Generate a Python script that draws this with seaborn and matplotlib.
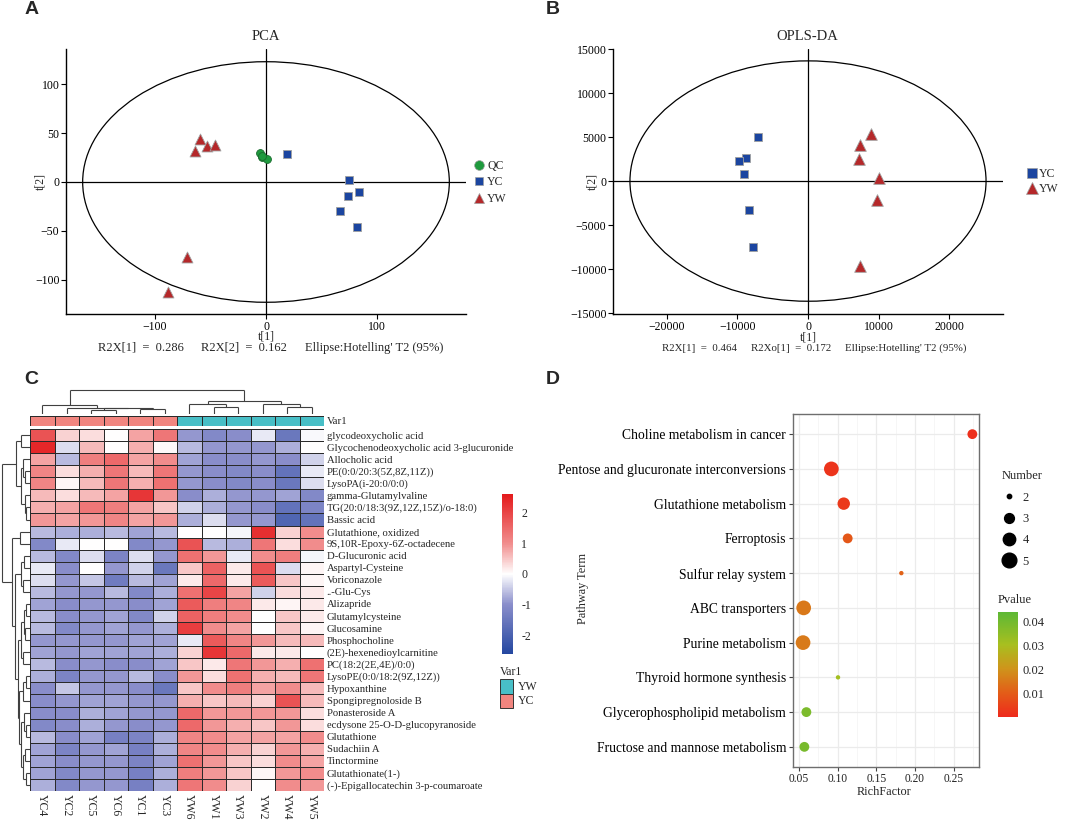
import numpy as np
import pandas as pd
import matplotlib
matplotlib.use("Agg")
import matplotlib.pyplot as plt
import seaborn as sns
from matplotlib.patches import Ellipse, Rectangle
from matplotlib.colors import LinearSegmentedColormap, ListedColormap, Normalize
from matplotlib.lines import Line2D
from matplotlib.cm import ScalarMappable

# ---------------- data ----------------
# A: PCA scores
pca_group = ["QC"] * 4 + ["YC"] * 6 + ["YW"] * 6
pca_t1 = [-5.4, -4.0, 1.0, -3.3, 19, 74.5, 74, 84, 67, 82, -59, -64, -53, -46, -71, -88]
pca_t2 = [30, 26, 23.5, 27, 29, 2, -14, -10, -30, -46, 44, 32, 37, 38, -77, -112]

# B: OPLS-DA scores
opls_group = ["YC"] * 6 + ["YW"] * 6
opls_t1 = [-7080, -8820, -9760, -9060, -8350, -7830, 8960, 7360, 7260, 10000, 9810, 7400]
opls_t2 = [5000, 2670, 2330, 830, -3270, -7480, 5380, 4140, 2560, 380, -2180, -9660]

# C: heatmap (z-scores)
heat_cols = ["YC4", "YC2", "YC5", "YC6", "YC1", "YC3", "YW6", "YW1", "YW3", "YW2", "YW4", "YW5"]
heat_rows = [
    "glycodeoxycholic acid", "Glycochenodeoxycholic acid 3-glucuronide", "Allocholic acid",
    "PE(0:0/20:3(5Z,8Z,11Z))", "LysoPA(i-20:0/0:0)", "gamma-Glutamylvaline",
    "TG(20:0/18:3(9Z,12Z,15Z)/o-18:0)", "Bassic acid", "Glutathione, oxidized",
    "9S,10R-Epoxy-6Z-octadecene", "D-Glucuronic acid", "Aspartyl-Cysteine", "Voriconazole",
    "..-Glu-Cys", "Alizapride", "Glutamylcysteine", "Glucosamine", "Phosphocholine",
    "(2E)-hexenedioylcarnitine", "PC(18:2(2E,4E)/0:0)", "LysoPE(0:0/18:2(9Z,12Z))",
    "Hypoxanthine", "Spongipregnoloside B", "Ponasteroside A",
    "ecdysone 25-O-D-glucopyranoside", "Glutathione", "Sudachiin A", "Tinctormine",
    "Glutathionate(1-)", "(-)-Epigallocatechin 3-p-coumaroate",
]
heat_values = [
    [1.8, 0.4, 0.3, 0.0, 0.8, 1.3, -0.9, -1.1, -1.0, -0.2, -1.5, -0.05],
    [2.4, -0.3, 0.6, 0.0, 0.7, 0.05, -0.6, -0.9, -0.9, -0.9, -0.7, 0.0],
    [0.8, -0.6, 1.2, 1.5, 0.8, 1.0, -0.8, -1.0, -1.0, -0.9, -1.0, -0.4],
    [1.1, 0.3, 0.7, 1.3, 0.6, 1.3, -0.9, -1.0, -1.1, -1.0, -1.6, -0.2],
    [1.1, 0.1, 0.6, 1.3, 0.7, 1.4, -0.9, -1.0, -1.1, -1.0, -1.5, -0.3],
    [0.6, 0.3, 0.6, 0.8, 2.2, 0.9, -1.0, -0.7, -0.9, -0.9, -0.8, -1.1],
    [0.7, 0.8, 1.3, 1.2, 0.8, 0.5, -0.4, -0.7, -0.9, -1.0, -1.6, -1.2],
    [0.9, 0.8, 0.9, 1.1, 0.8, 0.9, -0.7, -0.3, -0.9, -0.9, -1.9, -1.6],
    [-0.6, -0.7, -0.7, -0.6, -0.8, -0.6, 0.0, 0.0, -0.1, 2.3, 0.4, 1.0],
    [-1.1, -0.2, 0.0, 0.0, -1.1, -0.9, 1.8, -0.6, -0.7, 1.3, 0.3, 1.0],
    [-0.6, -1.1, -0.3, -1.2, -0.3, -0.9, 1.4, 0.9, -0.2, 1.0, 1.2, -0.1],
    [-0.2, -1.0, 0.0, -0.9, -0.4, -1.5, 0.5, 1.6, 0.2, 1.8, -0.3, 0.1],
    [-0.3, -0.9, -0.5, -1.4, -0.6, -0.8, 0.2, 1.5, 0.2, 1.7, 0.5, 0.1],
    [-0.6, -0.9, -0.9, -0.6, -1.1, -0.7, 1.4, 2.0, 0.8, -0.4, 0.3, 0.2],
    [-0.8, -1.0, -0.9, -0.9, -1.0, -0.8, 1.7, 1.2, 1.1, 0.2, 0.1, 0.2],
    [-0.6, -1.0, -0.9, -0.8, -1.1, -0.4, 1.6, 1.2, 1.0, 0.0, 0.5, 0.2],
    [-0.6, -1.1, -0.9, -0.8, -0.9, -0.7, 2.1, 1.0, 0.8, 0.0, 0.5, 0.1],
    [-0.9, -0.9, -0.9, -0.9, -0.8, -0.8, -0.2, 1.7, 1.1, 0.9, 0.6, 0.6],
    [-0.8, -0.9, -0.8, -0.8, -0.8, -0.7, 0.4, 2.2, 1.5, 0.2, 0.2, 0.0],
    [-0.6, -1.0, -0.9, -1.0, -1.0, -0.8, 0.5, 0.2, 1.3, 0.9, 0.7, 1.4],
    [-0.7, -1.2, -0.9, -0.9, -0.6, -1.0, 0.9, 0.3, 1.4, 0.7, 0.6, 1.3],
    [-1.0, -0.5, -0.9, -0.9, -1.0, -1.5, 0.5, 1.0, 1.2, 0.8, 1.0, 0.6],
    [-1.0, -0.9, -0.8, -0.8, -0.9, -0.9, 0.7, 0.5, 0.6, 0.4, 1.8, 0.6],
    [-1.0, -1.0, -0.7, -0.8, -0.9, -0.9, 1.5, 0.9, 0.9, 0.9, 0.9, 0.3],
    [-1.1, -1.0, -0.7, -0.9, -1.0, -0.9, 1.5, 0.9, 0.7, 0.5, 0.9, 0.3],
    [-0.6, -1.0, -0.8, -1.3, -1.2, -0.7, 1.1, 1.0, 0.8, 0.8, 0.8, 1.0],
    [-0.8, -1.2, -0.9, -0.8, -1.3, -0.7, 1.1, 1.0, 0.7, 0.4, 0.9, 0.7],
    [-0.8, -1.0, -0.9, -0.9, -1.2, -0.8, 1.4, 0.9, 0.5, 0.3, 1.0, 0.8],
    [-0.8, -1.1, -0.9, -0.9, -1.3, -0.7, 1.2, 0.9, 0.5, 0.1, 0.9, 1.0],
    [-0.7, -1.1, -0.9, -0.9, -1.3, -0.7, 1.3, 1.0, 0.4, 0.0, 1.0, 0.9],
]
# dendrogram topology: (height, left, right), leaves = index in display order
col_tree = (23.8,
            (9.2, 0, (6.8, 1, (6.3, (4.0, 2, 3), (5.8, 4, 5)))),
            (12.8, (10.2, 6, (7.5, 7, 8)), (10.2, 9, (7.5, 10, 11))))
row_tree = (27.0,
            (13.3, (8.7, 0, 1), (8.7, (6.0, 2, (4.3, 3, 4)), (4.0, 5, (3.3, 6, 7)))),
            (17.5, (9.3, 8, 9),
             (14.0, (8.0, (5.0, 10, 11), (6.0, 12, 13)),
              (11.0, (8.5, (5.5, (3.5, 14, 15), (4.0, 16, 17)), (6.0, 18, 19)),
               (10.0, (6.0, (3.0, 20, 21), 22),
                (8.0, (5.0, 23, (3.5, 24, 25)), (6.5, (4.5, 26, 27), (3.0, 28, 29))))))))

# D: KEGG enrichment
pathways = ["Choline metabolism in cancer", "Pentose and glucuronate interconversions",
            "Glutathione metabolism", "Ferroptosis", "Sulfur relay system", "ABC transporters",
            "Purine metabolism", "Thyroid hormone synthesis", "Glycerophospholipid metabolism",
            "Fructose and mannose metabolism"]
rich_factor = [0.2741, 0.0918, 0.1078, 0.1129, 0.1823, 0.0560, 0.0552, 0.1004, 0.0595, 0.0569]
path_number = [3, 5, 4, 3, 2, 5, 5, 2, 3, 3]
pvalue = [0.0012, 0.0020, 0.0030, 0.0090, 0.0110, 0.0150, 0.0155, 0.0310, 0.0380, 0.0390]

# ---------------- style ----------------
sns.set_theme(style="white")
plt.rcParams["font.family"] = ["Liberation Serif", "DejaVu Serif"]
plt.rcParams["axes.unicode_minus"] = True

W, H = 1065, 823
fig = plt.figure(figsize=(W / 100, H / 100), dpi=100)


def px(l, t, r, b):
    return [l / W, 1 - b / H, (r - l) / W, (b - t) / H]


def ftext(x, y, s, **kw):
    kw.setdefault("ha", "center")
    kw.setdefault("va", "center")
    fig.text(x / W, 1 - y / H, s, **kw)


group_colors = {"QC": "#1F9A3E", "YC": "#1B45A0", "YW": "#B5282A"}
group_markers = {"QC": "o", "YC": "s", "YW": "^"}


def score_axes(ax):
    for s in ["top", "right"]:
        ax.spines[s].set_visible(False)
    for s in ["left", "bottom"]:
        ax.spines[s].set_color("black")
        ax.spines[s].set_linewidth(1.0)
    ax.tick_params(bottom=True, left=True, length=3.5, width=0.8, labelsize=8.5,
                   colors="black", pad=1.2)
    ax.axhline(0, color="black", lw=0.9, zorder=1)
    ax.axvline(0, color="black", lw=0.9, zorder=1)
    ax.set_xlabel("")
    ax.set_ylabel("")


# ---------------- A: PCA ----------------
axA = fig.add_axes(px(66, 49, 466, 314))
dfA = pd.DataFrame({"t1": pca_t1, "t2": pca_t2, "group": pca_group})
sizesA = {"QC": 32, "YC": 34, "YW": 62}
edgesA = {"QC": "#1a6b2e", "YC": "#a0a0a0", "YW": "#a0a0a0"}
for g in ["QC", "YC", "YW"]:
    sns.scatterplot(data=dfA[dfA.group == g], x="t1", y="t2", color=group_colors[g],
                    marker=group_markers[g], s=sizesA[g], edgecolor=edgesA[g],
                    linewidth=0.6, ax=axA, zorder=3, legend=False)
axA.add_patch(Ellipse((0, 0), 330, 246, fill=False, lw=0.9, color="black"))
axA.set_xlim(-180, 180)
axA.set_ylim(-135, 136)
axA.set_xticks([-100, 0, 100])
axA.set_yticks([-100, -50, 0, 50, 100])
score_axes(axA)
ftext(266, 37, "PCA", fontsize=10.5)
ftext(266, 337, "t[1]", fontsize=8.5)
ftext(40, 182, "t[2]", fontsize=8.5, rotation=90)
ftext(98, 347.5, "R2X[1]  =  0.286", fontsize=9, ha="left")
ftext(201, 347.5, "R2X[2]  =  0.162", fontsize=9, ha="left")
ftext(305, 347.5, "Ellipse:Hotelling' T2 (95%)", fontsize=9, ha="left")
handlesA = [Line2D([], [], ls="", marker=group_markers[g], color=group_colors[g],
                   markersize=7 if g != "YC" else 6, markeredgecolor="#a0a0a0",
                   markeredgewidth=0.5) for g in ["QC", "YC", "YW"]]
fig.legend(handlesA, ["QC", "YC", "YW"], loc="upper left",
           bbox_to_anchor=(466 / W, 1 - 154 / H), frameon=False, fontsize=8.5,
           handletextpad=0.1, labelspacing=0.38, borderpad=0, handlelength=1.2)

# ---------------- B: OPLS-DA ----------------
axB = fig.add_axes(px(613, 49, 1003, 314))
dfB = pd.DataFrame({"t1": opls_t1, "t2": opls_t2, "group": opls_group})
for g in ["YC", "YW"]:
    sns.scatterplot(data=dfB[dfB.group == g], x="t1", y="t2", color=group_colors[g],
                    marker=group_markers[g], s=sizesA[g] if g == "YC" else 70,
                    edgecolor="#a0a0a0", linewidth=0.6, ax=axB, zorder=3, legend=False)
axB.add_patch(Ellipse((0, 0), 50400, 27300, fill=False, lw=0.9, color="black"))
axB.set_xlim(-27600, 27600)
axB.set_ylim(-15100, 15000)
axB.set_xticks([-20000, -10000, 0, 10000, 20000])
axB.set_yticks([-15000, -10000, -5000, 0, 5000, 10000, 15000])
score_axes(axB)
ftext(807, 36, "OPLS-DA", fontsize=10.5)
ftext(808, 338, "t[1]", fontsize=8.5)
ftext(592, 181, "t[2]", fontsize=8.5, rotation=90)
ftext(662, 348.5, "R2X[1]  =  0.464", fontsize=7.8, ha="left")
ftext(751, 348.5, "R2Xo[1]  =  0.172", fontsize=7.8, ha="left")
ftext(845, 348.5, "Ellipse:Hotelling' T2 (95%)", fontsize=7.8, ha="left")
handlesB = [Line2D([], [], ls="", marker=group_markers[g], color=group_colors[g],
                   markersize=6.5 if g == "YC" else 8, markeredgecolor="#a0a0a0",
                   markeredgewidth=0.5) for g in ["YC", "YW"]]
fig.legend(handlesB, ["YC", "YW"], loc="upper left",
           bbox_to_anchor=(1019 / W, 1 - 162 / H), frameon=False, fontsize=8.5,
           handletextpad=0.0, labelspacing=0.3, borderpad=0, handlelength=1.2)

# ---------------- C: heatmap ----------------
heat_cmap = LinearSegmentedColormap.from_list(
    "bwr_soft", [(0.0, "#2447A0"), (0.31, "#8A8ECB"), (0.5, "#FFFFFF"),
                 (0.69, "#F18E8E"), (1.0, "#E41A1C")])
heat_df = pd.DataFrame(heat_values, index=heat_rows, columns=heat_cols)
axC = fig.add_axes(px(30, 429, 324, 791))
caxC = fig.add_axes(px(502, 494, 513, 654))
sns.heatmap(heat_df, cmap=heat_cmap, vmin=-2.6, vmax=2.6, linewidths=0.7,
            linecolor="#2a2a2a", cbar_ax=caxC, ax=axC,
            cbar_kws={"ticks": [-2, -1, 0, 1, 2]})
axC.yaxis.tick_right()
axC.set_yticks(np.arange(len(heat_rows)) + 0.5)
axC.set_yticklabels(heat_rows, rotation=0, fontsize=7.7, ha="left")
axC.set_xticks(np.arange(len(heat_cols)) + 0.5)
axC.set_xticklabels(heat_cols, rotation=270, fontsize=8.5)
axC.tick_params(length=0, pad=2)
axC.set_xlabel("")
axC.set_ylabel("")
caxC.tick_params(length=0, labelsize=8.5, pad=6)
caxC.set_yticklabels(["-2", "-1", "0", "1", "2"])
for sp in caxC.spines.values():
    sp.set_visible(False)
cbC = axC.collections[0].colorbar
if cbC is not None:
    cbC.outline.set_visible(False)

var_colors = {"YC": "#F1857F", "YW": "#48BFC7"}
col_group = [c[:2] for c in heat_cols]
ann_codes = np.array([[0 if g == "YC" else 1 for g in col_group]])
axAnn = fig.add_axes(px(30, 416, 324, 426.5))
sns.heatmap(ann_codes, cmap=ListedColormap([var_colors["YC"], var_colors["YW"]]),
            vmin=0, vmax=1, cbar=False, linewidths=0.7, linecolor="#2a2a2a",
            xticklabels=False, yticklabels=False, ax=axAnn)
ftext(327, 421, "Var1", fontsize=7.8, ha="left")

ftext(500, 672, "Var1", fontsize=8.5, ha="left")
for i, g in enumerate(["YW", "YC"]):
    top = 679 + i * 14.5
    fig.add_artist(Rectangle((500 / W, 1 - (top + 14.5) / H), 13 / W, 14.5 / H,
                             transform=fig.transFigure, fc=var_colors[g],
                             ec="#333333", lw=0.7))
    ftext(518, top + 7.5, g, fontsize=8.5, ha="left")


def draw_dendro(ax, tree, orient):
    def seg(p0, h0, p1, h1):
        if orient == "top":
            ax.plot([p0, p1], [h0, h1], color="#404040", lw=0.8, solid_capstyle="butt")
        else:
            ax.plot([h0, h1], [p0, p1], color="#404040", lw=0.8, solid_capstyle="butt")

    def walk(node):
        if isinstance(node, int):
            return node + 0.5, 0.0
        h, left, right = node
        lp, lh = walk(left)
        rp, rh = walk(right)
        seg(lp, lh, lp, h)
        seg(rp, rh, rp, h)
        seg(lp, h, rp, h)
        return (lp + rp) / 2, h

    walk(tree)
    ax.axis("off")


axCD = fig.add_axes(px(30, 389, 324, 414.5))
draw_dendro(axCD, col_tree, "top")
axCD.set_xlim(0, len(heat_cols))
axCD.set_ylim(0, 25)

axRD = fig.add_axes(px(1, 429, 29.5, 791))
draw_dendro(axRD, row_tree, "left")
axRD.set_xlim(28, 0)
axRD.set_ylim(len(heat_rows), 0)

# ---------------- D: enrichment bubble ----------------
p_cmap = LinearSegmentedColormap.from_list(
    "pv", [(0.0, "#EE2A1C"), (0.23, "#E35D18"), (0.46, "#CF941B"),
           (0.69, "#A8BF1F"), (1.0, "#5DB835")])
p_norm = Normalize(0.0, 0.0438)
size_map = {2: 10, 3: 50, 4: 80, 5: 112}
dfD = pd.DataFrame({"Pathway": pathways, "RichFactor": rich_factor,
                    "Number": path_number, "Pvalue": pvalue})
axD = fig.add_axes(px(793, 414, 979, 767))
sns.scatterplot(data=dfD, x="RichFactor", y="Pathway", size="Number", sizes=size_map,
                hue="Pvalue", palette=p_cmap, hue_norm=p_norm, linewidth=0,
                legend=False, ax=axD, zorder=3)
axD.set_xlim(0.0422, 0.2827)
axD.set_ylim(len(pathways) - 0.42, -0.58)
axD.set_xticks([0.05, 0.10, 0.15, 0.20, 0.25])
axD.set_xticklabels(["0.05", "0.10", "0.15", "0.20", "0.25"])
axD.set_xticks([0.075, 0.125, 0.175, 0.225, 0.275], minor=True)
axD.set_yticks(range(len(pathways)))
axD.set_yticklabels(pathways)
axD.set_facecolor("white")
axD.grid(which="major", color="#EBEBEB", lw=0.9)
axD.grid(which="minor", axis="x", color="#F3F3F3", lw=0.5)
axD.set_axisbelow(True)
for sp in axD.spines.values():
    sp.set_color("#6e6e6e")
    sp.set_linewidth(1.0)
axD.tick_params(axis="y", left=True, length=3, width=0.8, color="#444444",
                labelsize=9.8, pad=2, labelcolor="black")
axD.tick_params(axis="x", bottom=True, length=3, width=0.8, color="#444444",
                labelsize=8.3, pad=1.5, labelcolor="#222222")
axD.tick_params(which="minor", length=0)
axD.set_xlabel("")
axD.set_ylabel("")
ftext(884, 792, "RichFactor", fontsize=8.8)
ftext(583, 588, "Pathway Term", fontsize=8.8, rotation=90)

handlesD = [Line2D([], [], ls="", marker="o", color="black", markersize=np.sqrt(size_map[k]))
            for k in size_map]
fig.legend(handlesD, [str(k) for k in size_map], title="Number", loc="upper left",
           bbox_to_anchor=(995 / W, 1 - 464 / H), frameon=False, fontsize=9,
           title_fontsize=9, handletextpad=0.5, labelspacing=0.75, borderpad=0,
           handlelength=1.2, alignment="left")

ftext(998, 600, "Pvalue", fontsize=9, ha="left")
caxD = fig.add_axes(px(998, 612, 1018, 717))
cbD = fig.colorbar(ScalarMappable(norm=p_norm, cmap=p_cmap), cax=caxD,
                   ticks=[0.01, 0.02, 0.03, 0.04])
cbD.outline.set_visible(False)
caxD.tick_params(length=4, width=0.8, color="white", direction="in", labelsize=9,
                 pad=3)

# panel letters
for x, y, s in [(32, 10, "A"), (553, 10, "B"), (31, 380, "C"), (553, 380, "D")]:
    ftext(x, y, s, fontsize=14, fontweight="bold", family="Liberation Sans")

fig.savefig("out.png", dpi=100)
